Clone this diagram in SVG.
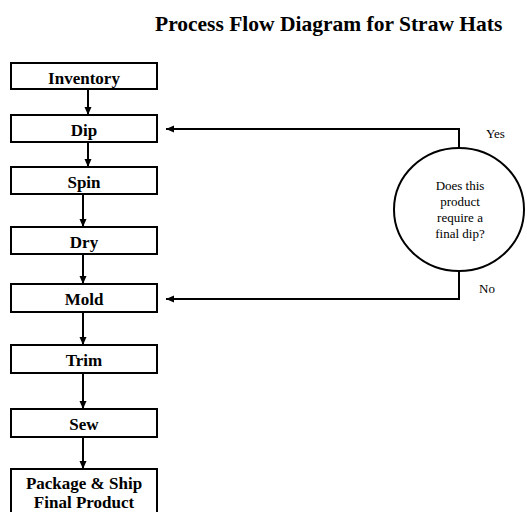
<svg xmlns="http://www.w3.org/2000/svg" width="527" height="512" viewBox="0 0 527 512">
<style>
.box{fill:#fff;stroke:#000;stroke-width:2}
.lbl{font-family:"Liberation Serif","Times New Roman",serif;font-weight:bold;font-size:17px;text-anchor:middle;fill:#000}
.small{font-family:"Liberation Serif","Times New Roman",serif;font-size:13px;fill:#000}
.title{font-family:"Liberation Serif","Times New Roman",serif;font-weight:bold;font-size:21.5px;fill:#000}
.conn{fill:none;stroke:#000;stroke-width:2}
</style>
<defs>
<marker id="ah" markerUnits="userSpaceOnUse" markerWidth="10" markerHeight="10" viewBox="0 0 10 10" refX="9" refY="5" orient="auto">
<path d="M1,1.5 L9,5 L1,8.5 Z" fill="#000"/>
</marker>
</defs>
<rect width="527" height="512" fill="#fff"/>
<text class="title" x="155" y="31">Process Flow Diagram for Straw Hats</text>

<g id="connectors">
<line class="conn" x1="88" y1="89" x2="88" y2="115" marker-end="url(#ah)"/>
<line class="conn" x1="88" y1="142" x2="88" y2="167" marker-end="url(#ah)"/>
<line class="conn" x1="83" y1="194" x2="83" y2="227" marker-end="url(#ah)"/>
<line class="conn" x1="83" y1="254" x2="83" y2="284" marker-end="url(#ah)"/>
<line class="conn" x1="83" y1="312" x2="83" y2="345" marker-end="url(#ah)"/>
<line class="conn" x1="83" y1="373" x2="83" y2="409" marker-end="url(#ah)"/>
<line class="conn" x1="83" y1="437" x2="83" y2="469" marker-end="url(#ah)"/>
<polyline class="conn" points="459,148 459,129 166,129" marker-end="url(#ah)"/>
<polyline class="conn" points="459,271 459,299 166,299" marker-end="url(#ah)"/>
</g>

<g id="inventory"><rect class="box" x="11" y="63" width="146" height="26"/><text class="lbl" x="84" y="84">Inventory</text></g>
<g id="dip"><rect class="box" x="11" y="115" width="146" height="27"/><text class="lbl" x="84" y="136">Dip</text></g>
<g id="spin"><rect class="box" x="11" y="167" width="146" height="27"/><text class="lbl" x="84" y="188">Spin</text></g>
<g id="dry"><rect class="box" x="11" y="227" width="146" height="27"/><text class="lbl" x="84" y="248">Dry</text></g>
<g id="mold"><rect class="box" x="11" y="284" width="146" height="28"/><text class="lbl" x="84" y="305">Mold</text></g>
<g id="trim"><rect class="box" x="11" y="345" width="146" height="28"/><text class="lbl" x="84" y="366">Trim</text></g>
<g id="sew"><rect class="box" x="11" y="409" width="146" height="28"/><text class="lbl" x="84" y="430">Sew</text></g>
<g id="package"><rect class="box" x="11" y="469" width="146" height="46"/><text class="lbl" x="84" y="489">Package &amp; Ship</text><text class="lbl" x="84" y="508">Final Product</text></g>

<g id="decision">
<ellipse cx="459" cy="209.5" rx="65" ry="61.5" fill="#fff" stroke="#000" stroke-width="2"/>
<text class="small" text-anchor="middle" x="460" y="190">Does this</text>
<text class="small" text-anchor="middle" x="460" y="206">product</text>
<text class="small" text-anchor="middle" x="460" y="222">require a</text>
<text class="small" text-anchor="middle" x="460" y="238">final dip?</text>
</g>
<g id="labels">
<text class="small" x="486" y="138">Yes</text>
<text class="small" x="479" y="293">No</text>
</g>
</svg>
